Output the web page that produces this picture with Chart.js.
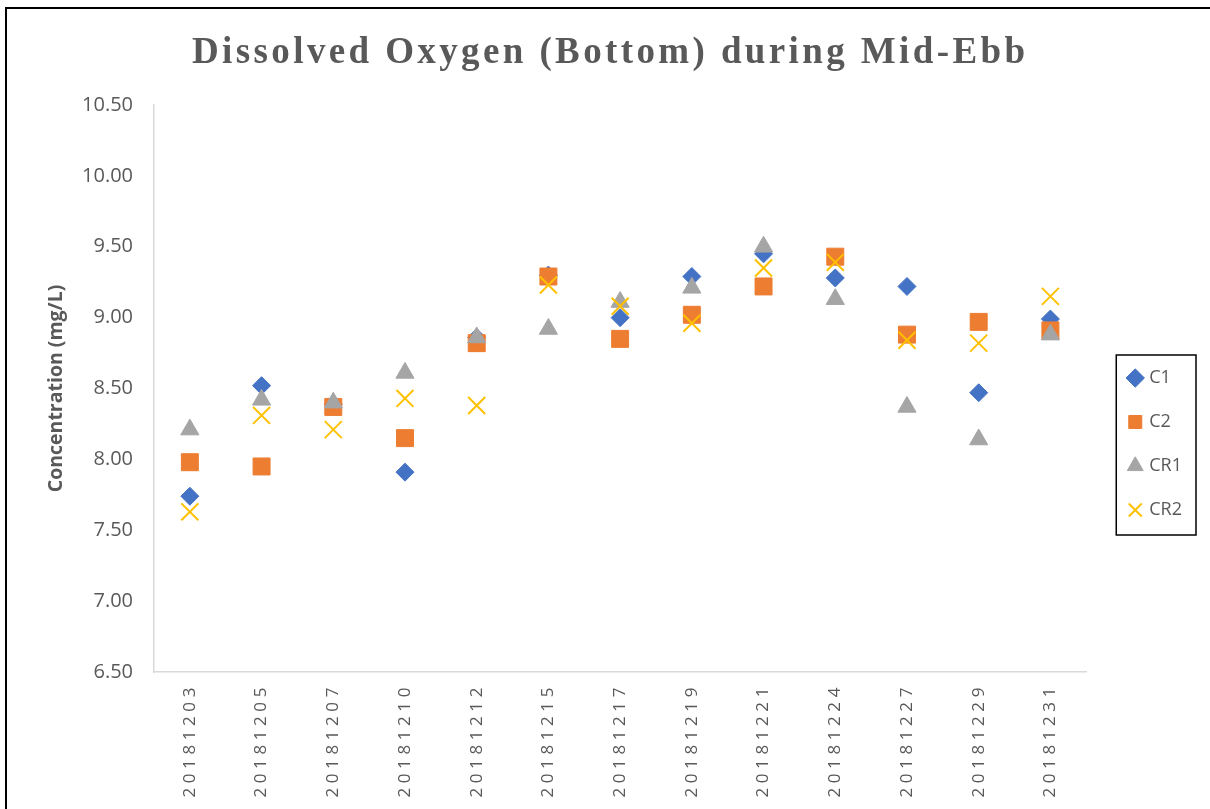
<!DOCTYPE html>
<html>
<head>
<meta charset="utf-8">
<script src="https://cdn.jsdelivr.net/npm/chart.js@4.4.0/dist/chart.umd.min.js"></script>
<style>
    html, body { margin: 0; padding: 0; background: #fff; }
    #wrap { position: relative; width: 1210px; height: 809px; overflow: hidden; }
    #frame { position: absolute; left: 5px; top: 7px; width: 1230px; height: 830px;
             border-top: 2px solid #000; border-left: 2px solid #000; }
    canvas { position: absolute; left: 0; top: 0; }
</style>
</head>
<body>
<div id="wrap">
    <div id="frame"></div>
    <canvas id="doChart" width="1210" height="809"></canvas>
</div>
<script>
const chartTitle = "Dissolved Oxygen (Bottom) during Mid-Ebb";
const yAxisTitle = "Concentration (mg/L)";

const dates = ["20181203", "20181205", "20181207", "20181210", "20181212", "20181215", "20181217",
               "20181219", "20181221", "20181224", "20181227", "20181229", "20181231"];

const c1  = [7.74, 8.52, 8.39, 7.91, 8.86, 9.30, 9.00, 9.29, 9.45, 9.28, 9.22, 8.47, 8.99];
const c2  = [7.98, 7.95, 8.37, 8.15, 8.82, 9.29, 8.85, 9.02, 9.22, 9.43, 8.88, 8.97, 8.91];
const cr1 = [8.21, 8.42, 8.40, 8.61, 8.86, 8.92, 9.11, 9.21, 9.50, 9.13, 8.37, 8.14, 8.88];
const cr2 = [7.63, 8.31, 8.21, 8.43, 8.38, 9.23, 9.08, 8.96, 9.35, 9.39, 8.84, 8.82, 9.15];

const yTicks = [6.5, 7.0, 7.5, 8.0, 8.5, 9.0, 9.5, 10.0, 10.5];

const textGray = "#595959";
const axisGray = "#d9d9d9";

// title with letter spacing, border round the legend, spaced x labels
const extras = {
    id: "extras",
    afterDatasetsDraw(chart) {
        chart.ctx.letterSpacing = "4.6px";   // x tick labels are drawn after datasets (z: 1)
    },
    afterDraw(chart) {
        const ctx = chart.ctx;
        ctx.letterSpacing = "0px";

        const hb = chart.legend.legendHitBoxes;
        let l = Infinity, t = Infinity, b = -Infinity;
        hb.forEach(h => {
            l = Math.min(l, h.left); t = Math.min(t, h.top);
            b = Math.max(b, h.top + h.height);
        });
        ctx.save();
        ctx.strokeStyle = "#000";
        ctx.lineWidth = 1.5;
        ctx.strokeRect(l - 14, t - 14, 1196 - (l - 14), (b + 16) - (t - 14));
        ctx.restore();

        ctx.save();
        ctx.font = 'bold 37px "Liberation Serif"';
        ctx.fillStyle = textGray;
        ctx.textAlign = "left";
        ctx.textBaseline = "alphabetic";
        const w = ctx.measureText(chartTitle).width;
        const sp = (833 - w) / (chartTitle.length - 1);
        ctx.letterSpacing = sp + "px";
        ctx.fillText(chartTitle, 192, 63);
        ctx.restore();
    }
};

const ctx = document.getElementById("doChart").getContext("2d");
const chart = new Chart(ctx, {
    type: "line",
    data: {
        labels: dates,
        datasets: [
            { label: "C1", data: c1, order: 4, showLine: false, pointStyle: "rectRot", pointRadius: 9,
              backgroundColor: "#4472c4", borderColor: "#4472c4", borderWidth: 1 },
            { label: "C2", data: c2, order: 3, showLine: false, pointStyle: "rect", pointRadius: 12,
              backgroundColor: "#ed7d31", borderColor: "#ed7d31", borderWidth: 1 },
            { label: "CR1", data: cr1, order: 2, showLine: false, pointStyle: "triangle", pointRadius: 10.5,
              backgroundColor: "#a5a5a5", borderColor: "#a5a5a5", borderWidth: 1 },
            { label: "CR2", data: cr2, order: 1, showLine: false, pointStyle: "crossRot", pointRadius: 12,
              backgroundColor: "#ffc000", borderColor: "#ffc000", borderWidth: 2 }
        ]
    },
    options: {
        responsive: false,
        animation: false,
        devicePixelRatio: 1,
        layout: { padding: { top: 79, bottom: 0, left: 0, right: 18 } },
        plugins: {
            title: { display: false },
            tooltip: { enabled: false },
            legend: {
                position: "right",
                align: "center",
                labels: {
                    usePointStyle: true,
                    boxWidth: 10,
                    boxHeight: 13,
                    padding: 26,
                    color: textGray,
                    font: { family: "Open Sans", size: 18 },
                    sort: (a, b) => a.datasetIndex - b.datasetIndex
                }
            }
        },
        scales: {
            x: {
                type: "category",
                offset: true,
                grid: { display: false, drawTicks: false },
                border: { display: true, color: axisGray, width: 1.5 },
                ticks: {
                    z: 1,
                    autoSkip: false,
                    minRotation: 90,
                    maxRotation: 90,
                    padding: 11,
                    color: textGray,
                    font: { family: "Open Sans", size: 17 }
                },
                afterFit(s) { s.height = 137; }
            },
            topGap: {
                type: "category",
                position: "top",
                display: true,
                grid: { display: false, drawTicks: false },
                border: { display: false },
                ticks: { display: false },
                afterFit(s) { s.height = 26; }
            },
            y: {
                min: yTicks[0],
                max: yTicks[yTicks.length - 1],
                afterBuildTicks(s) { s.ticks = yTicks.map(v => ({ value: v })); },
                grid: { display: false, drawTicks: false },
                border: { display: true, color: axisGray, width: 1.5 },
                ticks: {
                    padding: 21,
                    color: textGray,
                    font: { family: "Open Sans", size: 20 },
                    callback: v => Number(v).toFixed(2)
                },
                title: {
                    display: true,
                    text: yAxisTitle,
                    color: textGray,
                    font: { family: "Open Sans", size: 19.5, weight: "bold" },
                    padding: { top: 45, bottom: 0 }
                },
                afterFit(s) { s.width = 154; }
            },
            gap: {
                type: "linear",
                position: "right",
                display: true,
                grid: { display: false, drawTicks: false },
                border: { display: false },
                ticks: { display: false },
                afterFit(s) { s.width = 18; }
            }
        }
    },
    plugins: [extras]
});
</script>
</body>
</html>
